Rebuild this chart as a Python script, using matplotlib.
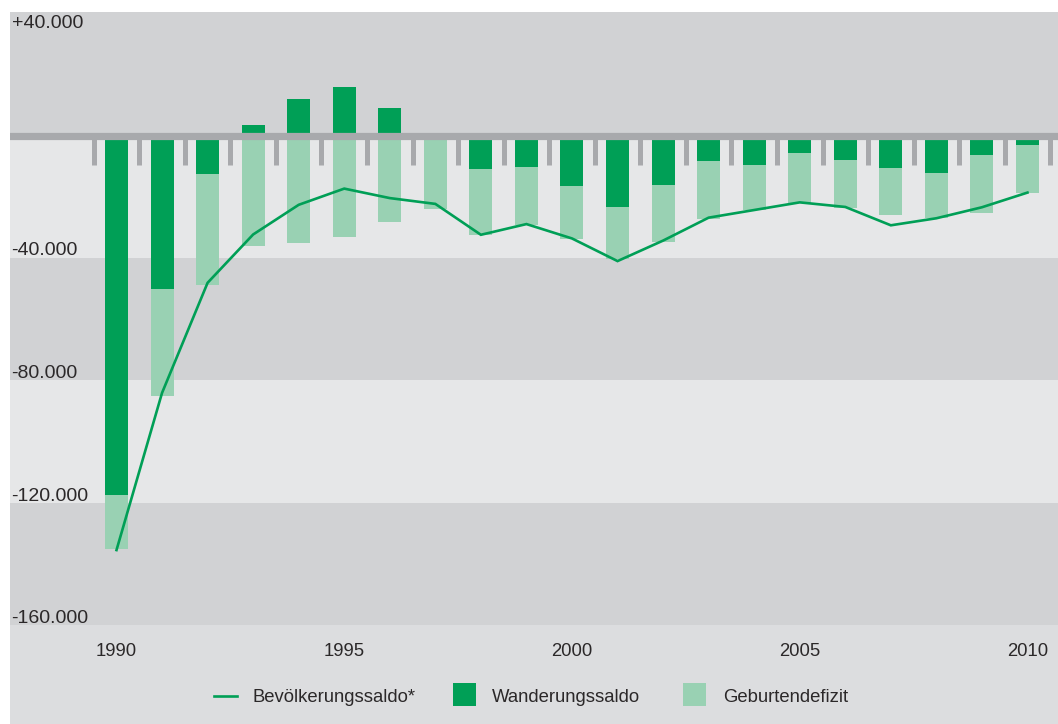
import matplotlib
matplotlib.use("Agg")
import matplotlib.pyplot as plt
from matplotlib.patches import Rectangle
from matplotlib.lines import Line2D
import matplotlib.transforms as mtransforms

# --- data (persons) ---
years = list(range(1990, 2011))
wanderungssaldo = [-117500, -50100, -12400, 3500, 12000, 15900, 9100, 0,
                   -10900, -10200, -16400, -23300, -16100, -8300, -9600,
                   -5700, -8000, -10600, -12200, -6300, -3000]
geburtendefizit = [-17500, -34900, -36300, -36000, -35000, -33100, -28100,
                   -24000, -21600, -19000, -17400, -17100, -18700, -18900,
                   -14700, -16200, -15600, -15300, -14800, -18900, -15600]
bevoelkerungssaldo = [-135500, -84100, -48100, -32300, -22600, -17300, -20400,
                      -22300, -32400, -28900, -33600, -41000, -34300, -26800,
                      -24300, -21800, -23300, -29300, -27000, -23400, -18600]
y_ticks = [40000, -40000, -80000, -120000, -160000]
y_tick_labels = ["+40.000", "-40.000", "-80.000", "-120.000", "-160.000"]
x_ticks = [1990, 1995, 2000, 2005, 2010]
series_labels = ["Bevölkerungssaldo*", "Wanderungssaldo", "Geburtendefizit"]

# --- style ---
DARK_GREEN = "#009f56"
LIGHT_GREEN = "#99d1b3"
BAND_DARK = "#d1d2d4"
BAND_LIGHT = "#e6e7e8"
PANEL = "#dcdddf"
AXIS_GRAY = "#a8a9ac"
TEXT = "#2b2829"
FONT = ["Liberation Sans", "DejaVu Sans"]

W, H = 1058, 724
fig = plt.figure(figsize=(W / 100, H / 100), dpi=100)
fig.patch.set_facecolor("white")

# grey panel behind everything
fig.add_artist(Rectangle((10 / W, 0), 1 - 10 / W, 1 - 12 / H,
                         transform=fig.transFigure, facecolor=PANEL,
                         edgecolor="none", zorder=0))

ax = fig.add_axes([10 / W, (H - 625) / H, 1048 / W, (625 - 12) / H])
ax.set_xlim(1987.662, 2010.67)
ax.set_ylim(-160000, 40450)
ax.set_facecolor(PANEL)
for s in ax.spines.values():
    s.set_visible(False)

# horizontal bands
ax.axhspan(0, 40450, color=BAND_DARK, lw=0, zorder=0)
ax.axhspan(-40000, 0, color=BAND_LIGHT, lw=0, zorder=0)
ax.axhspan(-80000, -40000, color=BAND_DARK, lw=0, zorder=0)
ax.axhspan(-120000, -80000, color=BAND_LIGHT, lw=0, zorder=0)
ax.axhspan(-160000, -120000, color=BAND_DARK, lw=0, zorder=0)

# stacked bars: migration balance from zero, birth deficit below it
ax.bar(years, wanderungssaldo, width=0.505, color=DARK_GREEN, lw=0, zorder=2)
light_bottom = [min(w, 0) for w in wanderungssaldo]
ax.bar(years, geburtendefizit, width=0.505, bottom=light_bottom,
       color=LIGHT_GREEN, lw=0, zorder=2)

# zero line with small separators between the years
ax.axhline(0, color=AXIS_GRAY, lw=5.2, zorder=3)
sep_x = [y - 0.5 for y in years] + [years[-1] + 0.5]
ax.vlines(sep_x, 0, -9600, colors=AXIS_GRAY, lw=3.6, zorder=3,
          capstyle="butt")

# population balance line
ax.plot(years, bevoelkerungssaldo, color=DARK_GREEN, lw=1.9, zorder=4,
        solid_joinstyle="miter")

# x axis labels
ax.set_xticks(x_ticks)
ax.set_xticklabels([str(x) for x in x_ticks], fontsize=13.3, color=TEXT,
                   family=FONT)
ax.tick_params(axis="x", length=0, pad=13)
ax.set_yticks([])

# y labels inside the plot area
ytrans = mtransforms.blended_transform_factory(ax.transAxes, ax.transData)
offsets = {40000: -4800, -40000: 900, -80000: 800, -120000: 700, -160000: 800}
for v, lab in zip(y_ticks, y_tick_labels):
    ax.text(0.0015, v + offsets[v], lab, transform=ytrans, ha="left",
            va="baseline", fontsize=14, color=TEXT, family=FONT, zorder=5)

# legend
def fx(px):
    return px / W


def fy(py):
    return (H - py) / H


fig.add_artist(Line2D([fx(214), fx(237)], [fy(696), fy(696)],
                      transform=fig.transFigure, color=DARK_GREEN, lw=1.9))
fig.add_artist(Rectangle((fx(452.7), fy(705.7)), 23 / W, 22.4 / H,
                         transform=fig.transFigure, facecolor=DARK_GREEN,
                         edgecolor="none"))
fig.add_artist(Rectangle((fx(682.7), fy(705.7)), 23 / W, 22.4 / H,
                         transform=fig.transFigure, facecolor=LIGHT_GREEN,
                         edgecolor="none"))
for xpx, lab in zip([253, 492, 723], series_labels):
    fig.text(fx(xpx), fy(702.3), lab, ha="left", va="baseline",
             fontsize=13.3, color=TEXT, family=FONT)

fig.savefig("out.png", dpi=100)
